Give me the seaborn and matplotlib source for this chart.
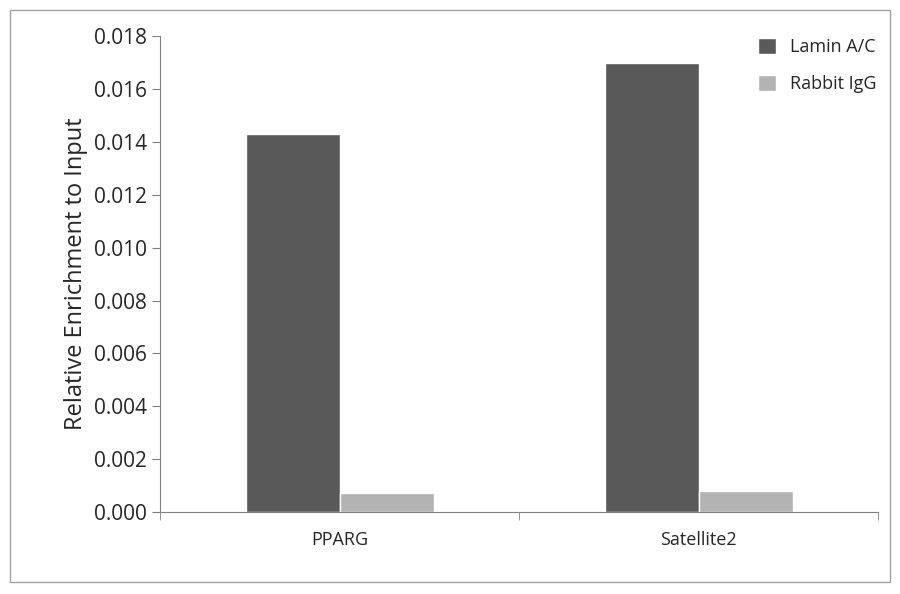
import matplotlib
matplotlib.use("Agg")
import matplotlib.pyplot as plt
import seaborn as sns
import pandas as pd
from matplotlib.patches import Rectangle

categories = ["PPARG", "Satellite2"]
series = ["Lamin A/C", "Rabbit IgG"]
lamin = [0.0143, 0.0170]
igg = [0.00072, 0.00078]
yticks = [0.000, 0.002, 0.004, 0.006, 0.008, 0.010, 0.012, 0.014, 0.016, 0.018]

df = pd.DataFrame({
    "cat": categories * 2,
    "series": [series[0]] * 2 + [series[1]] * 2,
    "val": lamin + igg,
})

sns.set_style("white")
plt.rcParams['font.family'] = ['Open Sans', 'DejaVu Sans']

fig = plt.figure(figsize=(9, 5.94), dpi=100)
fig.patches.append(Rectangle((0.011, 0.02), 0.978, 0.963, transform=fig.transFigure,
                             fill=False, edgecolor="#a0a0a0", linewidth=1))
ax = fig.add_axes([0.178, 0.138, 0.798, 0.801])
sns.barplot(data=df, x="cat", y="val", hue="series", palette=["#595959", "#b3b3b3"],
            width=0.523, ax=ax, saturation=1)
ax.set_xlim(-0.5, 1.5)
ax.set_ylim(0, 0.018)
ax.set_yticks(yticks)
ax.set_yticklabels([f"{v:.3f}" for v in yticks], fontsize=15)
ax.set_xticklabels(categories, fontsize=13)
ax.set_xticks([-0.5, 0.5, 1.5], minor=True)
ax.tick_params(axis="x", which="major", length=0, pad=14)
ax.tick_params(axis="x", which="minor", length=6, color="#808080", direction="out", bottom=True)
ax.tick_params(axis="y", length=6, color="#808080", direction="out", left=True)
ax.set_xlabel("")
ax.set_ylabel("Relative Enrichment to Input", fontsize=17)
for s in ["top", "right"]:
    ax.spines[s].set_visible(False)
for s in ["left", "bottom"]:
    ax.spines[s].set_color("#808080")
leg = ax.legend(frameon=False, fontsize=13, loc="upper right", bbox_to_anchor=(1.02, 1.03),
                handlelength=1.0, handleheight=1.0, labelspacing=1.0)
fig.savefig("out.png", dpi=100)
